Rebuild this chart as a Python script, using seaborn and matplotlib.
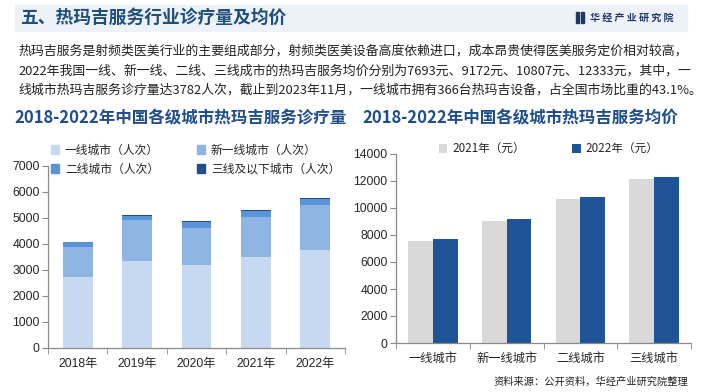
import matplotlib
matplotlib.use('Agg')
import matplotlib.pyplot as plt
import matplotlib.patches as mpatches
from matplotlib.ticker import FixedLocator
import pandas as pd
import seaborn as sns

# data
years = ['2018年', '2019年', '2020年', '2021年', '2022年']
tier1 = [2714, 3355, 3200, 3483, 3782]
new_tier1 = [1178, 1549, 1434, 1562, 1724]
tier2 = [166, 192, 230, 230, 243]
tier3 = [28, 38, 39, 39, 38]

cities = ['一线城市', '新一线城市', '二线城市', '三线城市']
price_2021 = [7570, 9050, 10670, 12150]
price_2022 = [7693, 9172, 10807, 12333]

sns.set_style('white')
plt.rcParams['font.family'] = ['Liberation Sans', 'Noto Sans CJK SC', 'DejaVu Sans']
plt.rcParams['axes.unicode_minus'] = False

W, H = 705, 392
fig = plt.figure(figsize=(W / 100, H / 100), dpi=100)

def fx(x):
    return x / W

def fy(y):
    return 1 - y / H

navy = '#1F4E79'
cjk = ['Noto Sans CJK SC', 'DejaVu Sans']

# header band
fig.patches.append(mpatches.Rectangle((fx(15), fy(31)), fx(687 - 15), 26 / H,
                                      transform=fig.transFigure, color='#EDF1F8', zorder=0))
fig.text(fx(20), fy(18), '五、热玛吉服务行业诊疗量及均价', fontsize=12.8, fontweight='bold',
         color=navy, va='center', family=cjk)
fig.patches.append(mpatches.Rectangle((fx(576), fy(23)), 2.5 / W, 11 / H,
                                      transform=fig.transFigure, color='#1F3864'))
fig.patches.append(mpatches.Rectangle((fx(581), fy(23)), 2.5 / W, 11 / H,
                                      transform=fig.transFigure, color='#1F3864'))
fig.text(fx(590), fy(17.5), '华 经 产 业 研 究 院', fontsize=7.2, fontweight='bold',
         color='#1F3864', va='center', family=cjk)

# paragraph
lines = [
    '热玛吉服务是射频类医美行业的主要组成部分，射频类医美设备高度依赖进口，成本昂贵使得医美服务定价相对较高，',
    '2022年我国一线、新一线、二线、三线成市的热玛吉服务均价分别为7693元、9172元、10807元、12333元，其中，一',
    '线城市热玛吉服务诊疗量达3782人次，截止到2023年11月，一线城市拥有366台热玛吉设备，占全国市场比重的43.1%。',
]
for i, ln in enumerate(lines):
    fig.text(fx(18), fy(51 + i * 19.7), ln, fontsize=9.3, color='#222222', va='center', family=cjk)

# subtitles
fig.text(fx(14), fy(118), '2018-2022年中国各级城市热玛吉服务诊疗量', fontsize=11.9,
         fontweight='bold', color='#1F4E8C', va='center', family=cjk)
fig.text(fx(362), fy(118), '2018-2022年中国各级城市热玛吉服务均价', fontsize=11.9,
         fontweight='bold', color='#1F4E8C', va='center', family=cjk)

def style_axes(ax, n):
    for s in ['top', 'right']:
        ax.spines[s].set_visible(False)
    for s in ['left', 'bottom']:
        ax.spines[s].set_color('#898989')
        ax.spines[s].set_linewidth(0.9)
    ax.set_xlim(-0.5, n - 0.5)
    ax.xaxis.set_minor_locator(FixedLocator([i - 0.5 for i in range(n + 1)]))
    ax.tick_params(axis='x', which='major', length=0, pad=7, labelsize=8.8)
    ax.tick_params(axis='x', which='minor', length=4, color='#898989', direction='out', bottom=True)
    ax.tick_params(axis='y', length=4, color='#898989', direction='out', left=True, labelsize=8.8, pad=2)
    ax.set_xlabel('')
    ax.set_ylabel('')

# left chart: stacked bars
c1, c2, c3, c4 = '#C6D9F1', '#8EB4E3', '#5A93D7', '#1F4E8C'
df = pd.DataFrame({'year': years, 't1': tier1, 'n1': new_tier1, 't2': tier2, 't3': tier3})
df['s1'] = df['t1']
df['s2'] = df['s1'] + df['n1']
df['s3'] = df['s2'] + df['t2']
df['s4'] = df['s3'] + df['t3']

ax1 = fig.add_axes([fx(48), fy(348), fx(345 - 48), (348 - 166) / H])
for col, c in [('s4', c4), ('s3', c3), ('s2', c2), ('s1', c1)]:
    sns.barplot(data=df, x='year', y=col, color=c, width=0.5, ax=ax1, saturation=1, linewidth=0)
ax1.set_ylim(0, 7000)
ax1.set_yticks(range(0, 7001, 1000))
style_axes(ax1, len(years))

h = [mpatches.Patch(color=c) for c in (c1, c3, c2, c4)]
lab = ['一线城市（人次）', '二线城市（人次）', '新一线城市（人次）', '三线及以下城市（人次）']
fig.legend(h, lab, loc='upper left', bbox_to_anchor=(fx(46), fy(139)), ncol=2, frameon=False,
           prop={'family': cjk, 'size': 8.5}, handlelength=0.7, handleheight=0.7,
           handletextpad=0.5, columnspacing=3.2, labelspacing=0.5, borderaxespad=0)

# right chart: grouped bars
dfp = pd.DataFrame({'city': cities * 2,
                    'price': price_2021 + price_2022,
                    'year': ['2021年（元）'] * 4 + ['2022年（元）'] * 4})
ax2 = fig.add_axes([fx(396), fy(343), fx(691 - 396), (343 - 154) / H])
sns.barplot(data=dfp, x='city', y='price', hue='year', palette=['#D9D9D9', '#1F5496'],
            width=0.67, gap=0, saturation=1, linewidth=0, ax=ax2)
ax2.set_ylim(0, 14000)
ax2.set_yticks(range(0, 14001, 2000))
style_axes(ax2, len(cities))
ax2.legend(loc='upper left', bbox_to_anchor=(fx(434), fy(138)), bbox_transform=fig.transFigure,
           ncol=2, frameon=False, prop={'family': cjk, 'size': 8.4}, handlelength=0.75,
           handleheight=0.75, handletextpad=0.45, columnspacing=4.0, borderaxespad=0)

fig.text(fx(688), fy(382), '资料来源：公开资料，华经产业研究院整理', fontsize=7.4, color='#222222',
         ha='right', va='center', family=cjk)

fig.savefig('out.png', dpi=100)
